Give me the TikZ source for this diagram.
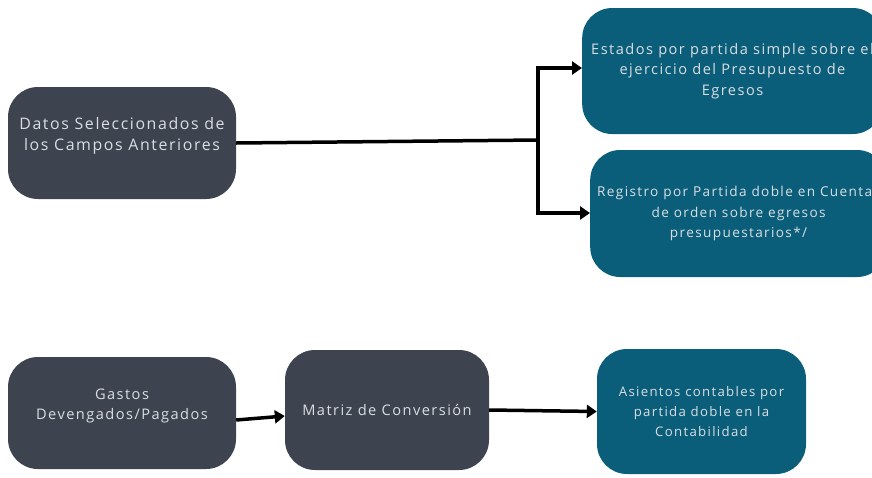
\documentclass[tikz,border=0pt]{standalone}
\usepackage{fontspec}
\setmainfont{Open Sans}[LetterSpace=10]
\usetikzlibrary{arrows.meta}
\definecolor{cajagris}{HTML}{3E4350}
\definecolor{cajaazul}{HTML}{0B5E7A}
\definecolor{letra}{HTML}{D9DEE2}

\begin{document}
\begin{tikzpicture}[x=1pt,y=-1pt,
  caja/.style={rounded corners=30pt,inner sep=0pt,align=center,text=letra},
  gris/.style={caja,fill=cajagris},
  azul/.style={caja,fill=cajaazul},
  grande/.style={font=\fontsize{15.9}{21}\selectfont},
  mediana/.style={font=\fontsize{14.6}{20.5}\selectfont},
  chica/.style={font=\fontsize{13.6}{20.5}\selectfont},
  flecha/.style={line width=3.5pt,-{Triangle[length=10pt,width=13pt]}},
  linea/.style={line width=3.5pt}]
\useasboundingbox (0,0) rectangle (872,477);

\node[gris,grande,minimum width=228pt,minimum height=112pt] (datos) at (122,143)
  {Datos Seleccionados de\\los Campos Anteriores\\[-3pt]\mbox{}};
\node[azul,mediana,anchor=west,inner xsep=9pt,minimum width=300pt,minimum height=126pt] (estados) at (582,71)
  {Estados por partida simple sobre el\\ejercicio del Presupuesto de\\Egresos};
\node[azul,chica,anchor=west,inner xsep=7pt,minimum width=290pt,minimum height=127pt] (registro) at (590,213.5)
  {Registro por Partida doble en Cuentas\\de orden sobre egresos\\presupuestarios*/};

\node[gris,mediana,minimum width=228pt,minimum height=112pt] (gastos) at (122,413)
  {Gastos\\Devengados/Pagados\\[-3pt]\mbox{}};
\node[gris,mediana,minimum width=204pt,minimum height=120pt] (matriz) at (387,410)
  {Matriz de Conversión};
\node[azul,chica,font=\fontsize{13.2}{20}\selectfont,minimum width=209pt,minimum height=125pt] (asientos) at (701.5,411.5)
  {Asientos contables por\\partida doble en la\\Contabilidad};

\coordinate (union) at (538,140);
\coordinate (arriba) at (538,68);
\coordinate (abajo) at (538,213);
\draw[linea] (datos.east) -- (union);
\draw[linea,line cap=rect] (arriba) -- (abajo);
\draw[flecha] (arriba) -- (estados.west |- arriba);
\draw[flecha] (abajo) -- (registro.west |- abajo);

\draw[flecha] ([yshift=-7pt]gastos.east) -- ([yshift=-6pt]matriz.west);
\draw[flecha] (matriz.east) -- (asientos.west);
\end{tikzpicture}
\end{document}
